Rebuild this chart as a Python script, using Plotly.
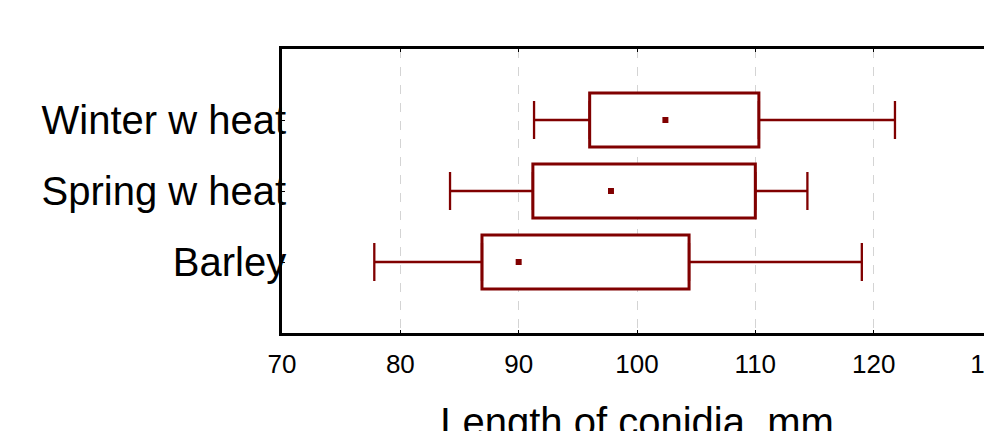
import plotly.graph_objects as go

categories = ["Barley", "Spring w heat", "Winter w heat"]
q1 = [86.9, 91.2, 96.0]
q3 = [104.4, 110.0, 110.3]
medians = [90.0, 97.8, 102.4]
mins = [77.8, 84.2, 91.3]
maxs = [119.0, 114.4, 121.8]
x_ticks = [70, 80, 90, 100, 110, 120, 130]

RED = "#800000"
FONT = "Liberation Sans, Arial, sans-serif"

box_len = [b - a for a, b in zip(q1, q3)]
low_err = [a - m for a, m in zip(q1, mins)]
high_err = [m - b for b, m in zip(q3, maxs)]
zeros = [0 for _ in categories]

fig = go.Figure()
fig.add_trace(go.Bar(
    y=categories, x=box_len, base=q1, orientation="h", width=0.76,
    marker=dict(color="white", line=dict(color=RED, width=3)),
    showlegend=False, hoverinfo="skip"))
fig.add_trace(go.Scatter(
    y=categories, x=q1, mode="markers", marker=dict(size=1, opacity=0),
    error_x=dict(type="data", symmetric=False, array=zeros, arrayminus=low_err,
                 color=RED, thickness=2.3, width=19),
    showlegend=False, hoverinfo="skip"))
fig.add_trace(go.Scatter(
    y=categories, x=q3, mode="markers", marker=dict(size=1, opacity=0),
    error_x=dict(type="data", symmetric=False, array=high_err, arrayminus=zeros,
                 color=RED, thickness=2.3, width=19),
    showlegend=False, hoverinfo="skip"))
fig.add_trace(go.Scatter(
    y=categories, x=medians, mode="markers",
    marker=dict(symbol="square", size=6, color=RED),
    showlegend=False))

fig.update_layout(
    width=1000, height=480,
    margin=dict(l=282, r=8, t=49, b=147),
    plot_bgcolor="white", paper_bgcolor="white",
    font=dict(family=FONT, color="black"),
    xaxis=dict(
        range=[70, 130], tickvals=x_ticks, ticktext=[str(v) for v in x_ticks],
        showline=True, linecolor="black", linewidth=2.7, mirror="ticks",
        ticks="inside", ticklen=3, tickcolor="black",
        showgrid=True, gridcolor="#d4d4d4", griddash="dash", gridwidth=1,
        zeroline=False, automargin=False, ticklabeloverflow="allow",
        tickfont=dict(size=26, family=FONT),
        ticklabelstandoff=6,
        title=dict(text="Length of conidia, mm", font=dict(size=40, family=FONT), standoff=30),
    ),
    yaxis=dict(
        range=[-1, 3], categoryorder="array", categoryarray=categories,
        showline=True, linecolor="black", linewidth=2.7, mirror=True,
        ticks="inside", ticklen=3, tickcolor="black",
        showgrid=False, zeroline=False, automargin=False,
        tickfont=dict(size=40, family=FONT),
        ticklabelstandoff=-15,
    ),
)

fig.write_html("out.html",
               config={"displayModeBar": False},
               post_script="document.body.style.margin='0px';document.body.style.overflow='hidden';")
